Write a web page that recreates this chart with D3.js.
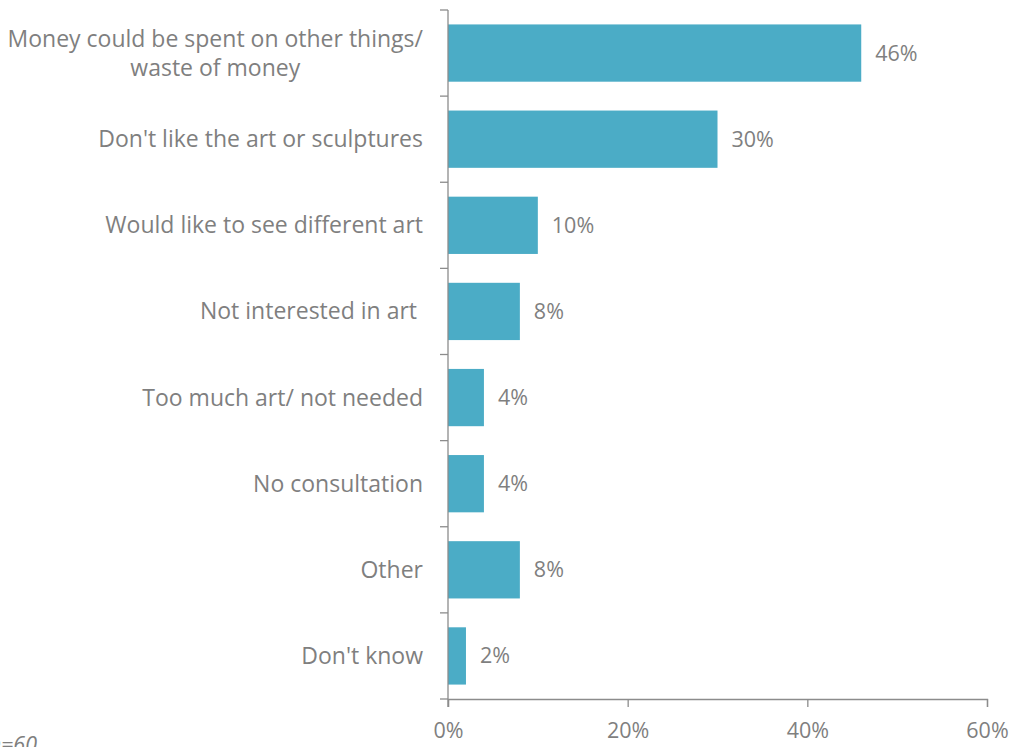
<!DOCTYPE html>
<html>
<head>
<meta charset="utf-8">
<script src="https://cdn.jsdelivr.net/npm/d3@7"></script>
<style>
  html, body { margin: 0; padding: 0; background: #fff; overflow: hidden; }
  svg { display: block; }
  text { font-family: "Open Sans", "Noto Sans", sans-serif; fill: #7f7f7f; }
</style>
</head>
<body>
<svg id="chart" width="1013" height="747"></svg>
<script>
// Reasons given for disliking public art spending
const categories = [
  ["Money could be spent on other things/", "waste of money"],
  ["Don't like the art or sculptures"],
  ["Would like to see different art"],
  ["Not interested in art "],
  ["Too much art/ not needed"],
  ["No consultation"],
  ["Other"],
  ["Don't know"]
];
const values = [46, 30, 10, 8, 4, 4, 8, 2];
const xTicks = [0, 20, 40, 60];
const baseNote = "n=60";

const svg = d3.select("#chart");
const axisColor = "#8c8c8c";
const barColor = "#4bacc6";
const fontSize = 21.5;
const labelFontSize = 23;
const fontFamily = "'Open Sans', 'Noto Sans', sans-serif";

const plotLeft = 448, plotRight = 987, plotTop = 10, plotBottom = 699;

const x = d3.scaleLinear().domain([0, 60]).range([plotLeft, plotRight]);
const y = d3.scaleBand()
  .domain(categories.map((d, i) => i))
  .range([plotTop, plotBottom])
  .paddingInner(0.335)
  .paddingOuter(0.1675);

// bars
svg.append("g").selectAll("rect")
  .data(values)
  .join("rect")
  .attr("x", x(0))
  .attr("y", (d, i) => y(i))
  .attr("width", d => x(d) - x(0))
  .attr("height", y.bandwidth())
  .attr("fill", barColor);

// value labels
svg.append("g").selectAll("text")
  .data(values)
  .join("text")
  .attr("x", d => x(d) + 14)
  .attr("y", (d, i) => y(i) + y.bandwidth() / 2)
  .attr("dy", "0.35em")
  .attr("font-size", fontSize)
  .text(d => d + "%");

// category axis: ticks at band boundaries
const yAxis = svg.append("g");
yAxis.append("line")
  .attr("x1", plotLeft).attr("x2", plotLeft)
  .attr("y1", plotTop).attr("y2", plotBottom + 8)
  .attr("stroke", axisColor).attr("stroke-width", 1.3);
const boundaries = d3.range(categories.length + 1)
  .map(i => plotTop + i * (plotBottom - plotTop) / categories.length);
yAxis.selectAll("line.tick")
  .data(boundaries)
  .join("line")
  .attr("class", "tick")
  .attr("x1", plotLeft - 8).attr("x2", plotLeft)
  .attr("y1", d => d).attr("y2", d => d)
  .attr("stroke", axisColor).attr("stroke-width", 1.3);

// category labels
const labels = svg.append("g").selectAll("text")
  .data(categories)
  .join("text")
  .attr("text-anchor", "middle")
  .attr("font-size", labelFontSize)
  .attr("xml:space", "preserve")
  .style("white-space", "pre");
labels.each(function (lines, i) {
  const t = d3.select(this);
  const cy = y(i) + y.bandwidth() / 2;
  const lh = 29;
  const y0 = cy - (lines.length - 1) * lh / 2;
  lines.forEach((ln, j) => {
    t.append("tspan").attr("y", y0 + j * lh).attr("dy", "0.35em").text(ln);
  });
});
// right-align each label block to the axis, centering lines within the block
labels.each(function () {
  const t = d3.select(this);
  const w = d3.max(t.selectAll("tspan").nodes(), n => n.getComputedTextLength());
  t.selectAll("tspan").attr("x", plotLeft - 25 - w / 2);
});

// value axis
const xAxis = d3.axisBottom(x)
  .tickValues(xTicks)
  .tickFormat(d => d + "%")
  .tickSize(8)
  .tickPadding(16);
const gx = svg.append("g")
  .attr("transform", `translate(0,${plotBottom})`)
  .call(xAxis);
gx.select(".domain").attr("stroke", axisColor).attr("stroke-width", 1.3);
gx.selectAll(".tick line").attr("stroke", axisColor).attr("stroke-width", 1.3);
gx.selectAll(".tick text")
  .attr("font-size", fontSize)
  .attr("font-family", fontFamily)
  .attr("fill", "#7f7f7f");

// sample size note
svg.append("text")
  .attr("x", 37).attr("y", 752)
  .attr("text-anchor", "end")
  .attr("font-size", fontSize)
  .attr("font-style", "italic")
  .text(baseNote);
</script>
</body>
</html>
